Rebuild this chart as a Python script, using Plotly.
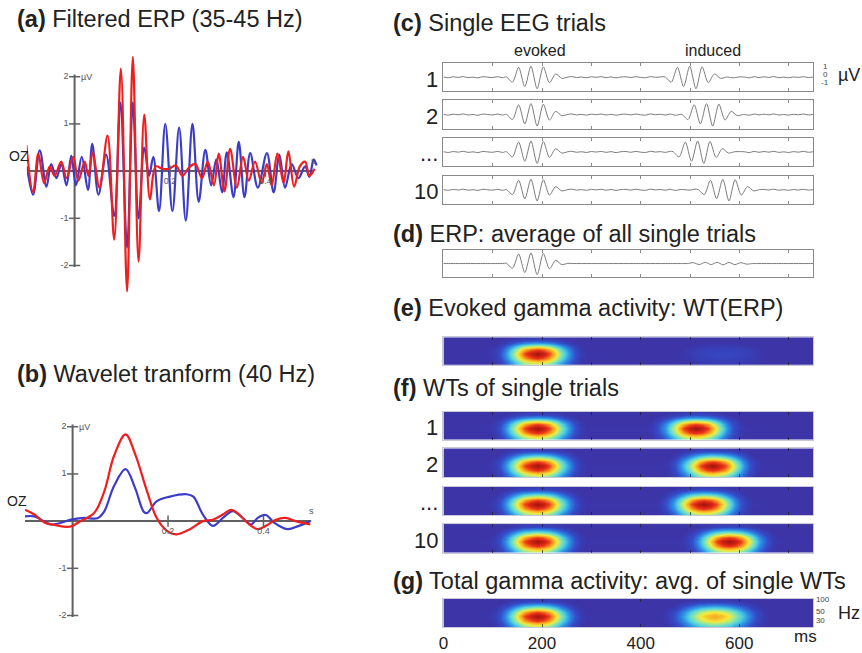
import math
import plotly.graph_objects as go

W, H = 862, 653
FONT = "Liberation Sans, Arial, sans-serif"

# ---------------- Panel (a): filtered ERP 35-45 Hz (time s, amplitude µV)
a_blue_t = [-0.100, -0.087, -0.073, -0.059, -0.049, -0.038, -0.028, -0.017, -0.007, 0.003,
            0.015, 0.028, 0.037, 0.050, 0.066, 0.083, 0.096, 0.110, 0.122, 0.134,
            0.146, 0.156, 0.165, 0.177, 0.190, 0.205, 0.219, 0.233, 0.247, 0.260,
            0.274, 0.286, 0.297, 0.309, 0.319, 0.333, 0.344, 0.356, 0.368, 0.384,
            0.403, 0.417, 0.429, 0.441, 0.455, 0.469, 0.483, 0.492, 0.501, 0.507]
a_blue_v = [0.1, -0.5, 0.44, -0.33, 0.15, -0.15, 0.15, -0.3, 0.33, -0.3,
            0.3, -0.4, 0.58, -0.5, 0.35, -0.95, 1.45, -1.62, 1.45, -1.0,
            0.5, -0.1, 0.3, -0.85, 1.0, -0.85, 0.92, -1.05, 1.0, -0.65,
            0.45, -0.3, 0.25, -0.45, 0.4, -0.55, 0.62, -0.55, 0.38, -0.35,
            0.38, -0.45, 0.35, -0.35, 0.15, -0.15, 0.1, -0.12, 0.25, 0.12]
a_red_t = [-0.101, -0.087, -0.076, -0.064, -0.052, -0.042, -0.028, -0.017, -0.003, 0.008,
           0.021, 0.029, 0.038, 0.052, 0.069, 0.083, 0.097, 0.110, 0.122, 0.134,
           0.146, 0.158, 0.170, 0.184, 0.198, 0.212, 0.226, 0.240, 0.253, 0.267,
           0.279, 0.292, 0.302, 0.314, 0.326, 0.340, 0.353, 0.365, 0.378, 0.392,
           0.403, 0.413, 0.425, 0.438, 0.448, 0.460, 0.472, 0.483, 0.492, 0.503]
a_red_v = [0.55, -0.45, 0.37, -0.25, 0.1, -0.1, 0.2, -0.15, 0.3, -0.2,
           0.2, -0.1, 0.4, -0.35, 0.75, -1.45, 2.17, -2.55, 2.42, -1.92,
           1.2, -0.6, 0.1, 0.05, 0.05, 0.12, -0.1, 0.08, 0.15, -0.15,
           0.2, -0.3, 0.37, -0.43, 0.47, -0.35, 0.3, -0.2, 0.2, -0.25,
           0.15, -0.3, 0.37, -0.25, 0.42, -0.33, 0.1, 0.2, -0.1, 0.05]

# ---------------- Panel (b): wavelet transform at 40 Hz
b_blue_t = [-0.100, -0.080, -0.045, -0.003, 0.024, 0.052, 0.066, 0.087, 0.111, 0.131,
            0.149, 0.156, 0.176, 0.204, 0.239, 0.253, 0.273, 0.294, 0.315, 0.336,
            0.356, 0.374, 0.388, 0.405, 0.422, 0.450, 0.474, 0.498]
b_blue_v = [0.1, 0.1, -0.07, 0.03, 0.07, 0.06, 0.2, 0.75, 1.1, 0.7,
            0.2, 0.17, 0.42, 0.52, 0.57, 0.52, 0.14, -0.1, 0.07, 0.21,
            0.07, -0.07, 0.07, 0.13, -0.03, -0.17, -0.1, 0.0]
b_red_t = [-0.100, -0.080, -0.059, -0.038, -0.007, 0.017, 0.045, 0.066, 0.087, 0.111,
           0.131, 0.156, 0.176, 0.197, 0.218, 0.246, 0.273, 0.294, 0.315, 0.332,
           0.349, 0.370, 0.388, 0.405, 0.426, 0.446, 0.467, 0.498]
b_red_v = [0.24, 0.14, -0.03, -0.08, -0.12, 0.0, 0.17, 0.62, 1.39, 1.84,
           1.42, 0.63, 0.07, -0.2, -0.28, -0.17, 0.0, 0.03, 0.14, 0.24,
           0.14, -0.07, -0.17, -0.1, 0.03, 0.07, 0.0, -0.07]

uv_ticks = [-2, -1, 1, 2]
s_ticks = [0.2, 0.4]

# ---------------- Panel (c): single EEG trials (ms, µV)
trial_labels = ["1", "2", "...", "10"]
evoked_center_ms = 190
induced_center_ms = [512, 546, 528, 579]
wavelet_offset_ms = [-62.5, -50, -37.5, -25, -12.5, 0, 12.5, 25, 37.5, 50, 62.5]
wavelet_uv = [0.03, -0.45, 0.9, -0.85, 1.0, -1.05, 0.95, -0.5, 0.3, -0.1, 0.02]
baseline_noise_uv = [0.02, -0.05, 0.04, -0.02, 0.06, -0.04, 0.01, -0.06, 0.05, 0.0,
                     -0.03, 0.05, -0.05, 0.03, -0.01, 0.06, -0.04, 0.02, -0.05, 0.04,
                     -0.02, 0.05, -0.06, 0.03, 0.0, -0.04, 0.06, -0.03, 0.02, -0.05,
                     0.04, -0.01, 0.05, -0.04, 0.03, -0.06, 0.02, 0.04, -0.03, 0.05,
                     -0.02, -0.05, 0.06, -0.01, 0.03, -0.04, 0.05, -0.06, 0.02, 0.01,
                     -0.03, 0.06, -0.05, 0.03, -0.02, 0.04, -0.04, 0.05, -0.01, -0.05,
                     0.03, 0.02, -0.06, 0.05, -0.03, 0.04, -0.02, 0.06, -0.04, 0.01,
                     -0.05, 0.03, -0.02, 0.05, -0.03, 0.02]

# ---------------- Panel (d): ERP residual ripple in the induced window
erp_ripple_ms = [495, 507, 519, 531, 543, 555, 567, 579, 591, 603, 615, 627]
erp_ripple_uv = [0.0, 0.08, -0.1, 0.12, -0.1, 0.12, -0.12, 0.1, -0.1, 0.08, -0.06, 0.0]

# ---------------- Time-frequency maps
freqs_hz = [20, 25, 30, 35, 40, 50, 60, 75, 90, 105]
freq_profile = [0.5, 0.7, 0.88, 0.97, 1.0, 0.85, 0.6, 0.3, 0.12, 0.05]
tf_offset_ms = [-100, -87.5, -75, -62.5, -50, -37.5, -25, -12.5, 0,
                12.5, 25, 37.5, 50, 62.5, 75, 87.5, 100]
tf_time_profile = [0.03, 0.06, 0.14, 0.28, 0.47, 0.67, 0.85, 0.95, 1.0,
                   0.95, 0.85, 0.67, 0.47, 0.28, 0.14, 0.06, 0.03]
tf_baseline = 0.02
# blobs: (centre ms, peak power, width factor)
e_blobs = [(190, 1.0, 1.0), (565, 0.1, 1.4)]
f_blobs = [[(190, 1.0, 1.0), (512, 1.0, 1.0)],
           [(190, 1.0, 1.0), (546, 1.0, 1.0)],
           [(190, 1.0, 1.0), (528, 1.0, 1.0)],
           [(190, 1.0, 1.0), (579, 1.0, 1.0)]]
g_blobs = [(190, 1.0, 1.0), (550, 0.74, 1.15)]
g_time_ticks = [0, 200, 400, 600]
g_freq_ticks = [30, 50, 100]

JET = [[0.0, "rgb(62,47,160)"], [0.12, "rgb(52,75,200)"], [0.25, "rgb(45,140,230)"],
       [0.38, "rgb(80,210,225)"], [0.5, "rgb(150,232,160)"], [0.62, "rgb(245,235,60)"],
       [0.75, "rgb(250,160,30)"], [0.87, "rgb(235,50,25)"], [1.0, "rgb(165,18,15)"]]

BLUE = "rgb(60,60,200)"
RED = "rgb(240,30,30)"
AXC = "#606060"
TS = 23.5


def xdom(p0, p1):
    return [p0 / W, p1 / W]


def ydom(top, bottom):
    return [1 - bottom / H, 1 - top / H]


fig = go.Figure()
layout = dict(width=W, height=H, margin=dict(l=0, r=0, t=0, b=0),
              paper_bgcolor="white", plot_bgcolor="white", showlegend=False,
              font=dict(family=FONT, color="#222"))
annotations = []
shapes = []


def add_axes(n, xd, yd, xaxis, yaxis):
    key = "" if n == 1 else str(n)
    xa = dict(domain=xd, anchor="y" + key, showgrid=False, zeroline=False)
    ya = dict(domain=yd, anchor="x" + key, showgrid=False, zeroline=False)
    xa.update(xaxis)
    ya.update(yaxis)
    layout["xaxis" + key] = xa
    layout["yaxis" + key] = ya
    return "x" + key, "y" + key


def label(px, py, text, size, xanchor="center", color="#222"):
    annotations.append(dict(xref="paper", yref="paper", x=px / W, y=1 - py / H,
                            xanchor=xanchor, yanchor="middle", showarrow=False, text=text,
                            font=dict(size=size, family=FONT, color=color)))


def title(px, py, tag, text):
    label(px, py, "<b>" + tag + "</b> " + text, TS, xanchor="left")


# ---------- (a) and (b) ERP plots
def erp_panel(n, xd, yd, yr, blue, red):
    hidden = dict(visible=False)
    xr, yrn = add_axes(n, xd, yd, dict(range=[-0.1, 0.51], **hidden),
                       dict(range=yr, **hidden))
    shapes.append(dict(type="line", xref=xr, yref=yrn, x0=0, x1=0, y0=-2.03, y1=2.05,
                       line=dict(color=AXC, width=2), layer="below"))
    shapes.append(dict(type="line", xref=xr, yref=yrn, x0=-0.1, x1=0.5, y0=0, y1=0,
                       line=dict(color=AXC, width=2), layer="below"))
    fig.add_trace(go.Scatter(x=blue[0], y=blue[1], mode="lines", xaxis=xr, yaxis=yrn,
                             line=dict(color=BLUE, width=2.2, shape="spline", smoothing=1.0)))
    fig.add_trace(go.Scatter(x=red[0], y=red[1], mode="lines", xaxis=xr, yaxis=yrn,
                             line=dict(color=RED, width=2.2, shape="spline", smoothing=1.0)))
    fig.add_trace(go.Scatter(x=[0] * len(uv_ticks), y=uv_ticks, mode="markers+text",
                             xaxis=xr, yaxis=yrn, text=[str(v) for v in uv_ticks],
                             textposition="middle left", cliponaxis=False,
                             textfont=dict(size=9, color="#555"),
                             marker=dict(symbol="line-ew", size=8,
                                         line=dict(width=1.5, color=AXC))))
    fig.add_trace(go.Scatter(x=s_ticks, y=[0] * len(s_ticks), mode="markers+text",
                             xaxis=xr, yaxis=yrn, text=[str(v) for v in s_ticks],
                             textposition="bottom center", cliponaxis=False,
                             textfont=dict(size=9, color="#555"),
                             marker=dict(symbol="line-ns", size=8,
                                         line=dict(width=1.5, color=AXC))))
    annotations.append(dict(xref=xr, yref=yrn, x=0, y=2.0, xanchor="left", xshift=4,
                            yanchor="middle", text="µV", showarrow=False,
                            font=dict(size=9, color="#555")))
    annotations.append(dict(xref=xr, yref=yrn, x=0.5, y=0, xanchor="center", yanchor="bottom",
                            yshift=3, text="s", showarrow=False, font=dict(size=9, color="#555")))
    return xr, yrn


xa, ya = erp_panel(1, xdom(22, 314.8), ydom(171 - 2.6 * 48, 171 + 2.7 * 48), [-2.7, 2.6],
                   (a_blue_t, a_blue_v), (a_red_t, a_red_v))
annotations.append(dict(xref=xa, yref=ya, x=-0.1, y=0.33, xanchor="left", xshift=-20,
                        yanchor="middle", text="OZ", showarrow=False,
                        font=dict(size=14, color="#222")))
xb, yb = erp_panel(2, xdom(20, 312.8), ydom(527 - 2.3 * 48, 527 + 2.3 * 48), [-2.3, 2.3],
                   (b_blue_t, b_blue_v), (b_red_t, b_red_v))
annotations.append(dict(xref=xb, yref=yb, x=-0.1, y=0.42, xanchor="left", xshift=-20,
                        yanchor="middle", text="OZ", showarrow=False,
                        font=dict(size=14, color="#222")))

title(10, 16, "(a)", "Filtered ERP (35-45 Hz)")
title(10, 377, "(b)", "Wavelet tranform (40 Hz)")

# ---------- right column
RX0, RX1 = 441, 813
box_x = dict(range=[0, 750], showline=True, linecolor="#8a8a8a", linewidth=1, mirror="ticks",
             ticks="inside", ticklen=3, tickcolor="#8a8a8a", dtick=100, tick0=0,
             showticklabels=False)
box_y = dict(range=[-1.3, 1.3], showline=True, linecolor="#8a8a8a", linewidth=1, mirror=True,
             ticks="", showticklabels=False)

noise_t = [750 * i / (len(baseline_noise_uv) - 1) for i in range(len(baseline_noise_uv))]
half_win = max(wavelet_offset_ms)


def trial_trace(centers, with_noise=True, extra=None):
    pts = []
    for t, v in zip(noise_t, baseline_noise_uv):
        if all(abs(t - c) > half_win for c in centers):
            if extra is None or not (extra[0][0] <= t <= extra[0][-1]):
                pts.append((t, v if with_noise else 0.0))
    for c in centers:
        for o, v in zip(wavelet_offset_ms, wavelet_uv):
            pts.append((c + o, v))
    if extra is not None:
        pts.extend(zip(extra[0], extra[1]))
    pts.sort()
    return [p[0] for p in pts], [p[1] for p in pts]


def row_label(text, top, bottom):
    label(438, (top + bottom) / 2 + 2, text, 22, xanchor="right")


n = 3
c_rows = [(61, 90), (99, 128), (137, 166), (176, 204)]
for i, (top, bot) in enumerate(c_rows):
    xr, yr = add_axes(n, xdom(RX0, RX1), ydom(top, bot), box_x, box_y)
    tx, tv = trial_trace([evoked_center_ms, induced_center_ms[i]])
    fig.add_trace(go.Scatter(x=tx, y=tv, mode="lines", xaxis=xr, yaxis=yr,
                             line=dict(color="#7c7c7c", width=1, shape="spline", smoothing=0.8)))
    row_label(trial_labels[i], top, bot)
    n += 1

title(388, 20, "(c)", "Single EEG trials")
label(538, 48, "evoked", 16)
label(712, 48, "induced", 16)
for txt, py in [("1", 65), ("0", 73), ("-1", 81)]:
    label(825, py, txt, 8, color="#444")
label(836, 73, "µV", 18, xanchor="left")

# (d) ERP
xr, yr = add_axes(n, xdom(RX0, RX1), ydom(251, 279), box_x, box_y)
tx, tv = trial_trace([evoked_center_ms], with_noise=False, extra=(erp_ripple_ms, erp_ripple_uv))
fig.add_trace(go.Scatter(x=tx, y=tv, mode="lines", xaxis=xr, yaxis=yr,
                         line=dict(color="#7c7c7c", width=1, shape="spline", smoothing=0.8)))
n += 1
title(388, 235, "(d)", "ERP: average of all single trials")


# heatmaps
def tf_map(blobs):
    xs = [0.0]
    cols = [[tf_baseline] * len(freqs_hz)]
    for c, amp, wf in sorted(blobs):
        for o, tp in zip(tf_offset_ms, tf_time_profile):
            xs.append(c + o * wf)
            cols.append([max(tf_baseline, fp * tp * amp) for fp in freq_profile])
    xs.append(750.0)
    cols.append([tf_baseline] * len(freqs_hz))
    z = [[cols[j][i] for j in range(len(xs))] for i in range(len(freqs_hz))]
    return xs, z


hm_x = dict(range=[0, 750], showline=True, linecolor="#c8c8d8", linewidth=1, mirror="ticks",
            ticks="inside", ticklen=3, tickcolor="rgba(30,30,30,0.7)", dtick=100, tick0=0,
            showticklabels=False)
hm_y = dict(type="log", range=[math.log10(20), math.log10(105)], showline=True,
            linecolor="#c8c8d8", linewidth=1, mirror=True, ticks="", showticklabels=False)


def add_map(nn, top, bot, blobs, last=False):
    xax = dict(hm_x)
    yax = dict(hm_y)
    if last:
        xax.update(showticklabels=True, tickvals=g_time_ticks, tick0=None, dtick=None,
                   tickfont=dict(size=17, family=FONT, color="#222"))
        yax.update(showticklabels=True, side="right", tickvals=g_freq_ticks,
                   tickfont=dict(size=8, color="#444"))
    xr, yr = add_axes(nn, xdom(RX0, RX1), ydom(top, bot), xax, yax)
    xs, z = tf_map(blobs)
    fig.add_trace(go.Heatmap(x=xs, y=freqs_hz, z=z, xaxis=xr, yaxis=yr, zmin=0, zmax=1,
                             colorscale=JET, zsmooth="best", showscale=False,
                             hoverinfo="skip"))


add_map(n, 340, 368, e_blobs)
n += 1
title(388, 310, "(e)", "Evoked gamma activity: WT(ERP)")

f_rows = [(416, 444), (453, 482), (492, 521), (530, 559)]
for i, (top, bot) in enumerate(f_rows):
    add_map(n, top, bot, f_blobs[i])
    row_label(trial_labels[i], top, bot)
    n += 1
title(388, 392, "(f)", "WTs of single trials")

add_map(n, 606, 635, g_blobs, last=True)
n += 1
title(388, 588, "(g)", "Total gamma activity: avg. of single WTs")
label(836, 620, "Hz", 18, xanchor="left")
label(805, 644, "ms", 17)

layout["annotations"] = annotations
layout["shapes"] = shapes
fig.update_layout(**layout)
fig.write_html("out.html", post_script="document.body.style.margin='0px';",
               config={"displayModeBar": False})
